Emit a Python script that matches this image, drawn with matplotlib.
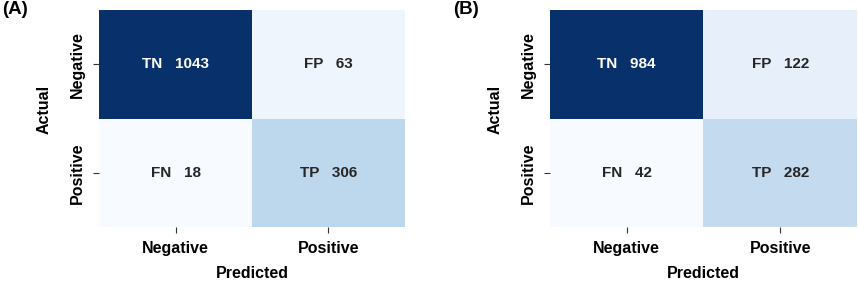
import matplotlib
matplotlib.use("Agg")
import matplotlib.pyplot as plt
import numpy as np
import seaborn as sns

plt.rcParams['font.family'] = ['Liberation Sans', 'DejaVu Sans']

classes = ["Negative", "Positive"]
cell_names = [["TN", "FP"], ["FN", "TP"]]
cm_a = [[1043, 63], [18, 306]]
cm_b = [[984, 122], [42, 282]]
panel_labels = ["(A)", "(B)"]

fig = plt.figure(figsize=(8.58, 2.82), dpi=100)
boxes = [[0.1154, 0.195, 0.3566, 0.7695], [0.641, 0.195, 0.3578, 0.7695]]

for box, cm, lab in zip(boxes, [cm_a, cm_b], panel_labels):
    ax = fig.add_axes(box)
    arr = np.array(cm)
    annot = np.array([[f"{cell_names[i][j]}   {arr[i, j]}" for j in range(2)] for i in range(2)])
    sns.heatmap(arr, ax=ax, cmap="Blues", cbar=False, annot=annot, fmt="",
                annot_kws={"fontsize": 11, "fontweight": "bold"},
                xticklabels=classes, yticklabels=classes)
    ax.set_xlabel("Predicted", fontsize=11.5, fontweight="bold")
    ax.set_ylabel("Actual", fontsize=11.5, fontweight="bold")
    ax.xaxis.set_label_coords(0.5, -0.215)
    ax.yaxis.set_label_coords(-0.18, 0.544)
    ax.yaxis.label.set_va("center")
    ax.xaxis.label.set_va("center")
    ax.tick_params(axis='both', length=4, width=0.8, color="#333333", pad=6)
    for t in ax.get_xticklabels():
        t.set_fontsize(11.5); t.set_fontweight("bold")
    for t in ax.get_yticklabels():
        t.set_fontsize(11.5); t.set_fontweight("bold")
        t.set_rotation(90); t.set_va("center")
    fig.text(box[0] - 0.1154 + 0.002, 0.995, lab, fontsize=13.5, fontweight="bold", va="top", ha="left")

fig.savefig("out.png", dpi=100)
